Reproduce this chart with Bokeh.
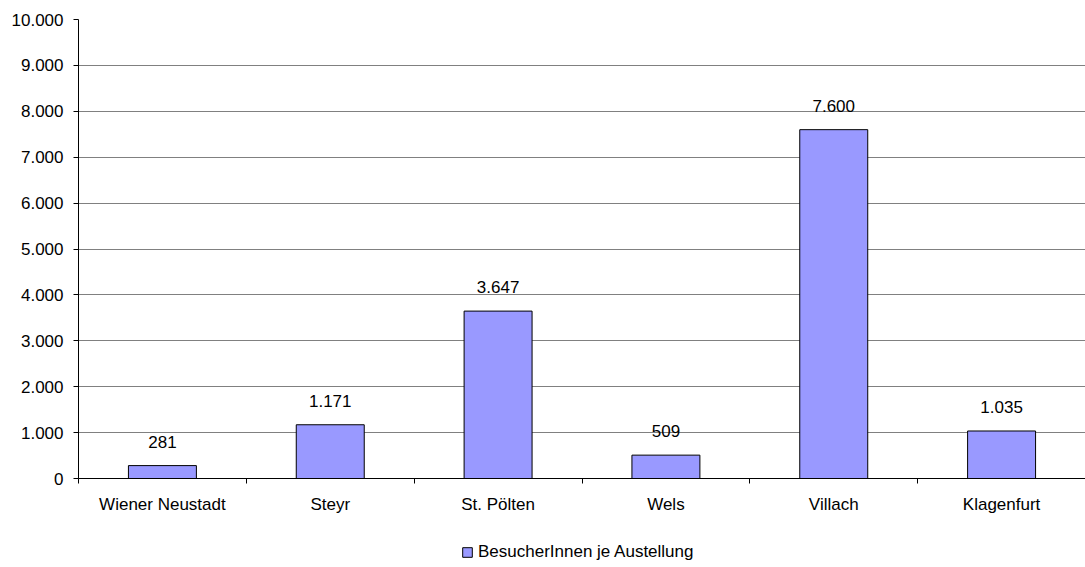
from bokeh.plotting import figure
from bokeh.layouts import column
from bokeh.models import ColumnDataSource, FixedTicker, Legend, LegendItem
from bokeh.core.properties import value
from bokeh.embed import file_html
from bokeh.resources import INLINE

# Visitors per exhibition, by city
cities = ["Wiener Neustadt", "Steyr", "St. Pölten", "Wels", "Villach", "Klagenfurt"]
visitors = [281, 1171, 3647, 509, 7600, 1035]
series_name = "BesucherInnen je Austellung"
y_ticks = [0, 1000, 2000, 3000, 4000, 5000, 6000, 7000, 8000, 9000, 10000]


def de_thousands(v):
    return f"{v:,}".replace(",", ".")


FONT = "Liberation Sans"
BAR_FILL = "#9999FF"

x_pos = [i + 0.5 for i in range(len(cities))]
src = ColumnDataSource(dict(
    x=x_pos,
    top=visitors,
    label=[de_thousands(v) for v in visitors],
))

p = figure(
    width=1085, height=530,
    x_range=(0, len(cities)), y_range=(0, 10000),
    output_backend="svg", toolbar_location=None,
    min_border_left=78, min_border_right=0,
    min_border_top=19, min_border_bottom=52,
)
p.outline_line_color = None
p.background_fill_color = "white"
p.border_fill_color = "white"

bars = p.vbar(x="x", top="top", width=0.405, bottom=0, source=src,
              fill_color=BAR_FILL, line_color="black", line_width=1)

p.text(x="x", y="top", text="label", source=src,
       text_align="center", text_baseline="middle", y_offset=-24,
       text_font=value(FONT), text_font_size="17px", text_color="black")

# y axis
p.yaxis.ticker = FixedTicker(ticks=y_ticks)
p.yaxis.major_label_overrides = {t: de_thousands(t) for t in y_ticks}
p.yaxis.major_label_text_font = FONT
p.yaxis.major_label_text_font_size = "17px"
p.yaxis.major_label_text_color = "black"
p.yaxis.axis_line_color = "black"
p.yaxis.major_tick_line_color = "black"
p.yaxis.major_tick_out = 5
p.yaxis.major_tick_in = 0
p.yaxis.minor_tick_line_color = None
p.yaxis.major_label_standoff = 10

# x axis: labels at category centres, tick marks at category boundaries
p.xaxis.ticker = FixedTicker(ticks=x_pos, minor_ticks=list(range(len(cities) + 1)))
p.xaxis.major_label_overrides = {x: c for x, c in zip(x_pos, cities)}
p.xaxis.major_label_text_font = FONT
p.xaxis.major_label_text_font_size = "17px"
p.xaxis.major_label_text_color = "black"
p.xaxis.axis_line_color = "black"
p.xaxis.major_tick_line_color = None
p.xaxis.minor_tick_line_color = "black"
p.xaxis.minor_tick_out = 5
p.xaxis.minor_tick_in = 0
p.xaxis.major_label_standoff = 10

p.xgrid.grid_line_color = None
p.ygrid.grid_line_color = "#808080"
p.ygrid.grid_line_width = 1

# strip underneath holding the series key; its swatch renderer sits
# outside the strip's visible range so only the legend entry shows
key = figure(
    width=1085, height=37,
    x_range=(0, 1), y_range=(0, 1),
    x_axis_type=None, y_axis_type=None,
    output_backend="svg", toolbar_location=None,
    min_border_left=0, min_border_right=0,
    min_border_top=0, min_border_bottom=0,
)
key.outline_line_color = None
key.xgrid.visible = False
key.ygrid.visible = False
key_glyph = key.quad(left=[-5], right=[-4], top=[-4], bottom=[-5],
                     fill_color=BAR_FILL, line_color="black", line_width=1)

legend = Legend(
    items=[LegendItem(label=series_name, renderers=[key_glyph])],
    location=(383, 5),
    label_text_font=FONT, label_text_font_size="17px", label_text_color="black",
    glyph_width=12, glyph_height=12,
    border_line_color=None, background_fill_alpha=0,
    padding=4, spacing=0, label_standoff=5, margin=0,
)
key.add_layout(legend, "center")

layout = column(p, key, spacing=0)
open("out.html", "w").write(file_html(layout, INLINE))
